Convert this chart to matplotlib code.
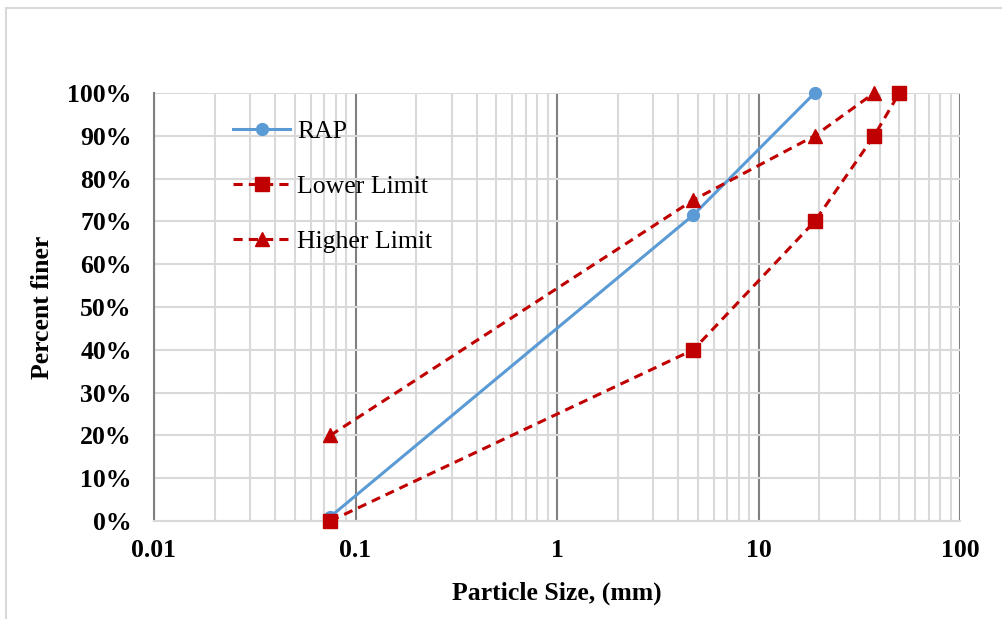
import matplotlib
matplotlib.use("Agg")
import matplotlib.pyplot as plt
from matplotlib.ticker import FixedLocator, LogLocator, NullFormatter, FuncFormatter
from matplotlib.patches import Rectangle

rap_x = [0.075, 4.75, 19.0]
rap_y = [0.01, 0.715, 1.0]
lower_x = [0.075, 4.75, 19.0, 37.5, 50.0]
lower_y = [0.0, 0.40, 0.70, 0.90, 1.0]
higher_x = [0.075, 4.75, 19.0, 37.5]
higher_y = [0.20, 0.75, 0.90, 1.0]
xticks = [0.01, 0.1, 1, 10, 100]
xtick_labels = ["0.01", "0.1", "1", "10", "100"]
yticks = [i / 10 for i in range(11)]

plt.rcParams['font.family'] = ['Liberation Serif', 'DejaVu Serif']

W, H = 1003, 619
fig = plt.figure(figsize=(W / 100, H / 100), dpi=100)
ax = fig.add_axes([154 / W, 1 - 521 / H, (960 - 154) / W, (521 - 93) / H])

# outer border
fig.patches.append(Rectangle((6 / W, -0.1), 1.2, 1 - 8 / H + 0.1, transform=fig.transFigure,
                             fill=False, edgecolor='#d9d9d9', linewidth=1.5, zorder=0))

ax.set_xscale('log')
ax.set_xlim(0.01, 100)
ax.set_ylim(0, 1)

ax.xaxis.set_major_locator(FixedLocator(xticks))
ax.xaxis.set_minor_locator(LogLocator(base=10, subs=range(2, 10)))
ax.xaxis.set_minor_formatter(NullFormatter())
ax.set_xticks(xticks)
ax.set_xticklabels(xtick_labels)
ax.set_yticks(yticks)
ax.yaxis.set_major_formatter(FuncFormatter(lambda v, p: f"{v*100:.0f}%"))

ax.grid(True, which='minor', axis='x', color='#d9d9d9', linewidth=1.5)
ax.grid(True, which='major', axis='x', color='#808080', linewidth=1.5)
ax.grid(True, which='major', axis='y', color='#d9d9d9', linewidth=1.5)
ax.set_axisbelow(True)

for s in ['top', 'right']:
    ax.spines[s].set_visible(False)
ax.spines['left'].set_color('#808080')
ax.spines['left'].set_linewidth(1.5)
ax.spines['bottom'].set_color('#d9d9d9')
ax.spines['bottom'].set_linewidth(1.5)

ax.tick_params(axis='both', which='both', length=0, labelsize=18.5)
ax.tick_params(axis='x', pad=13)
ax.tick_params(axis='y', pad=16)
for lab in ax.get_xticklabels() + ax.get_yticklabels():
    lab.set_fontweight('bold')

ax.plot(rap_x, rap_y, color='#5B9BD5', linewidth=2.2, marker='o', markersize=8.5, label='RAP', clip_on=False, zorder=3)
ax.plot(lower_x, lower_y, color='#C00000', linewidth=2.2, linestyle=(0, (3, 2)), marker='s', markersize=9.5,
        label='Lower Limit', clip_on=False, zorder=4)
ax.plot(higher_x, higher_y, color='#C00000', linewidth=2.2, linestyle=(0, (3, 2)), marker='^', markersize=10,
        label='Higher Limit', clip_on=False, zorder=4)

ax.set_xlabel('Particle Size, (mm)', fontsize=18.5, fontweight='bold', labelpad=14)
ax.set_ylabel('Percent finer', fontsize=18.5, fontweight='bold', labelpad=10)

leg = ax.legend(loc='upper left', bbox_to_anchor=(0.073, 0.985), frameon=False, fontsize=18.5,
                labelspacing=1.25, handlelength=2.2, handletextpad=0.27, borderpad=0.3)

fig.savefig('out.png', dpi=100)
